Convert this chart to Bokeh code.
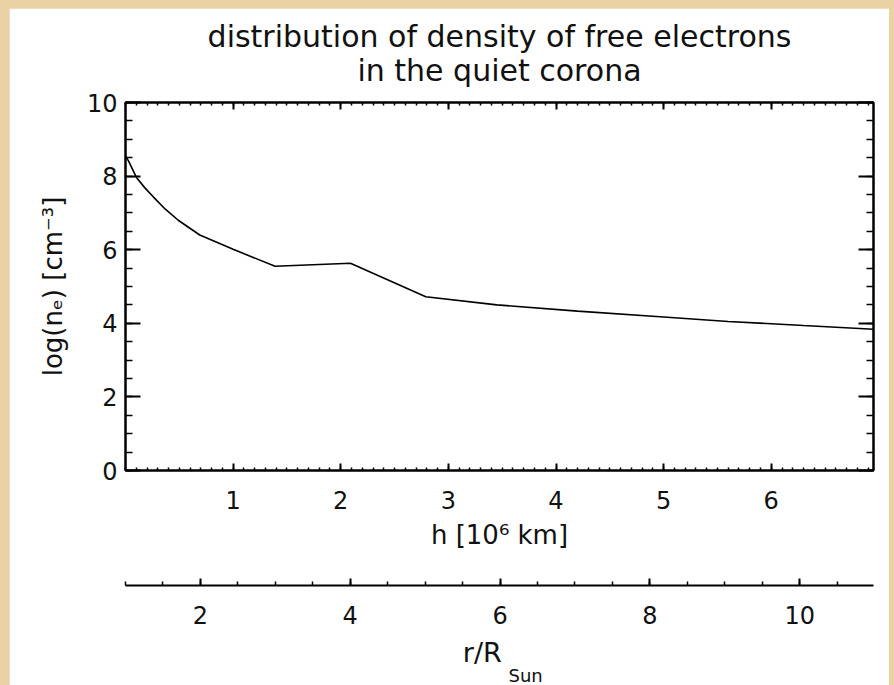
import numpy as np
from bokeh.plotting import figure
from bokeh.models import (Range1d, LinearAxis, FixedTicker, SingleIntervalTicker,
                          Title)
from bokeh.layouts import column
from bokeh.embed import file_html
from bokeh.resources import INLINE

# ---- data ----
h_values = [0.00, 0.03, 0.10, 0.18, 0.26, 0.37, 0.49, 0.69, 1.00, 1.39, 2.09, 2.79,
            3.45, 4.20, 5.00, 5.60, 6.30, 6.95]
log_ne = [8.55, 8.40, 7.97, 7.68, 7.43, 7.10, 6.80, 6.40, 6.01, 5.55, 5.63, 4.72,
          4.50, 4.33, 4.17, 4.05, 3.94, 3.84]
h_ticks = [1, 2, 3, 4, 5, 6]
h_minor = [round(0.1 * i, 1) for i in range(0, 70)]
R_SUN = 0.696  # 10^6 km
H_MAX = 6.95

FONT = "DejaVu Sans"
BEIGE = "#ead2a4"
INK = "#111111"

p = figure(width=880, height=677, x_range=Range1d(0, H_MAX), y_range=Range1d(0, 10),
           output_backend="svg", toolbar_location=None,
           x_axis_location=None, y_axis_location=None,
           min_border_left=116, min_border_right=16, min_border_top=94,
           min_border_bottom=215,
           background_fill_color="white", border_fill_color="white",
           outline_line_color="black", outline_line_width=2)
p.margin = (8, 5, 0, 9)
p.grid.visible = False


def style(ax, tin, mtin, labels=True):
    ax.major_tick_in = tin
    ax.major_tick_out = 0
    ax.minor_tick_in = mtin
    ax.minor_tick_out = 0
    ax.axis_line_width = 2
    ax.axis_line_color = "black"
    ax.major_tick_line_width = 2
    ax.minor_tick_line_width = 1.5
    ax.major_tick_line_color = "black"
    ax.minor_tick_line_color = "black"
    ax.major_label_text_font = FONT
    ax.major_label_text_font_size = "24px"
    ax.major_label_text_color = INK
    ax.axis_label_text_font = FONT
    ax.axis_label_text_font_size = "26px"
    ax.axis_label_text_font_style = "normal"
    ax.axis_label_text_color = INK
    if not labels:
        ax.major_label_text_alpha = 0
        ax.major_label_text_font_size = "1px"
        ax.major_label_standoff = 0


# left axis
yl = LinearAxis(ticker=SingleIntervalTicker(interval=2, num_minor_ticks=4),
                axis_label="log(nₑ) [cm⁻³]")
style(yl, 15, 7)
yl.major_label_standoff = 8
yl.axis_label_standoff = 16
p.add_layout(yl, "left")

# right axis (ticks only)
yr = LinearAxis(ticker=SingleIntervalTicker(interval=2, num_minor_ticks=4))
style(yr, 15, 7, labels=False)
p.add_layout(yr, "right")

# bottom axis
xb = LinearAxis(ticker=FixedTicker(ticks=h_ticks, minor_ticks=h_minor),
                axis_label="h [10⁶ km]")
style(xb, 7, 3)
xb.major_label_standoff = 20
xb.axis_label_standoff = 8
p.add_layout(xb, "below")

# spacer between the two lower axes (white text on white)
p.add_layout(Title(text=" ", text_font_size="20px", standoff=9, text_color="white",
                   text_line_height=1.0), "below")

# second axis r/R_Sun
p.extra_x_ranges = {"r": Range1d(1, 1 + H_MAX / R_SUN)}
x2 = LinearAxis(x_range_name="r",
                ticker=SingleIntervalTicker(interval=2, num_minor_ticks=4),
                axis_label="r/R\u00a0\u00a0\u00a0\u00a0")
style(x2, 7, 4)
x2.axis_label_text_font_size = "27px"
x2.major_label_standoff = 20
x2.axis_label_standoff = 10
p.add_layout(x2, "below")
p.add_layout(Title(text="Sun", align="left", offset=383, standoff=-30,
                   text_font=FONT, text_font_size="18px", text_font_style="normal",
                   text_color=INK), "below")

# top axis (ticks only) and the two title lines
xt = LinearAxis(ticker=FixedTicker(ticks=h_ticks, minor_ticks=h_minor))
style(xt, 7, 3, labels=False)
p.add_layout(xt, "above")
p.add_layout(Title(text="in the quiet corona", align="center", text_font=FONT,
                   text_font_size="30px", text_font_style="normal", text_color=INK,
                   standoff=30, text_line_height=0.6), "above")
p.add_layout(Title(text="distribution of density of free electrons", align="center",
                   text_font=FONT, text_font_size="30px", text_font_style="normal",
                   text_color=INK, standoff=-36, text_line_height=0.6), "above")

p.line(h_values, log_ne, line_color="black", line_width=1.6)

layout = column(p, width=894, height=685, styles={"background-color": BEIGE})
open("out.html", "w").write(file_html(layout, INLINE))
